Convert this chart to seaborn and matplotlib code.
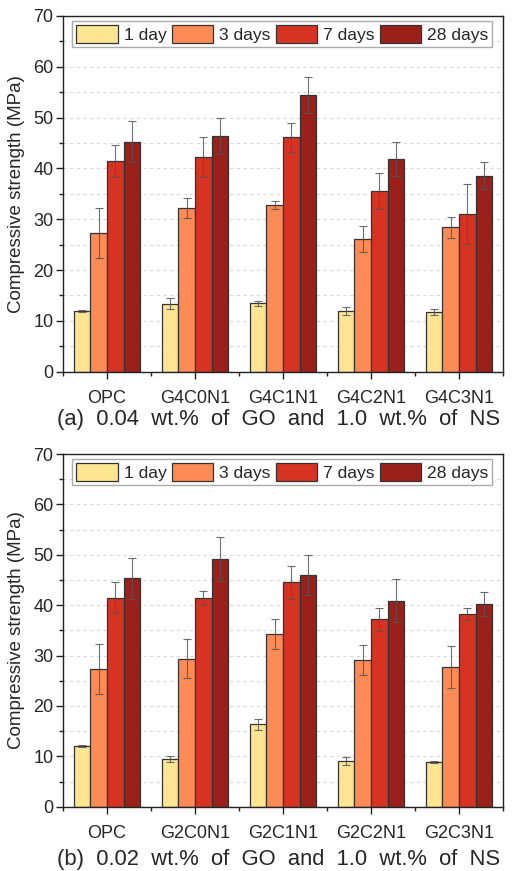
import numpy as np
import pandas as pd
import matplotlib
matplotlib.use("Agg")
import matplotlib.pyplot as plt
import seaborn as sns
from matplotlib.ticker import MultipleLocator, FixedLocator

sns.set_theme(style="white")
plt.rcParams['font.family'] = ['Liberation Sans', 'DejaVu Sans']

ages = ["1 day", "3 days", "7 days", "28 days"]
colors = ["#FEE591", "#FC8B55", "#D73322", "#9B1F1A"]

samples_a = ["OPC", "G4C0N1", "G4C1N1", "G4C2N1", "G4C3N1"]
day1_a = [12.0, 13.4, 13.5, 11.9, 11.8]
day3_a = [27.3, 32.2, 32.8, 26.1, 28.4]
day7_a = [41.5, 42.3, 46.1, 35.6, 31.1]
day28_a = [45.3, 46.4, 54.5, 41.9, 38.6]
err1_a = [0.2, 1.1, 0.5, 0.8, 0.6]
err3_a = [5.0, 2.0, 0.8, 2.6, 2.0]
err7_a = [3.1, 3.9, 2.8, 3.6, 5.9]
err28_a = [4.1, 3.5, 3.5, 3.3, 2.7]

samples_b = ["OPC", "G2C0N1", "G2C1N1", "G2C2N1", "G2C3N1"]
day1_b = [12.0, 9.4, 16.4, 9.0, 8.8]
day3_b = [27.3, 29.4, 34.3, 29.1, 27.7]
day7_b = [41.5, 41.4, 44.5, 37.2, 38.3]
day28_b = [45.3, 49.1, 46.0, 40.9, 40.2]
err1_b = [0.2, 0.6, 1.1, 0.8, 0.2]
err3_b = [5.0, 3.9, 3.0, 3.0, 4.2]
err7_b = [3.1, 1.4, 3.2, 2.3, 1.2]
err28_b = [4.1, 4.4, 4.0, 4.2, 2.4]

titles = ["(a)  0.04  wt.%  of  GO  and  1.0  wt.%  of  NS",
          "(b)  0.02  wt.%  of  GO  and  1.0  wt.%  of  NS"]

W, H = 517, 871
fig = plt.figure(figsize=(W / 100, H / 100), dpi=100)

panels = [
    (samples_a, [day1_a, day3_a, day7_a, day28_a], [err1_a, err3_a, err7_a, err28_a], 16, 371.7, 420),
    (samples_b, [day1_b, day3_b, day7_b, day28_b], [err1_b, err3_b, err7_b, err28_b], 454, 806.7, 859),
]

for (samples, vals, errs, top_px, bot_px, title_px), title in zip(panels, titles):
    left_px, right_px = 63, 503
    ax = fig.add_axes([left_px / W, 1 - bot_px / H, (right_px - left_px) / W, (bot_px - top_px) / H])
    rows = []
    for age, v in zip(ages, vals):
        for s, val in zip(samples, v):
            rows.append({"sample": s, "age": age, "value": val})
    df = pd.DataFrame(rows)
    sns.barplot(data=df, x="sample", y="value", hue="age", hue_order=ages, order=samples,
                palette=colors, width=0.76, errorbar=None, edgecolor="#333333",
                linewidth=0.9, saturation=1, ax=ax, zorder=2)
    for cont, e in zip(ax.containers, errs):
        xs = [p.get_x() + p.get_width() / 2 for p in cont.patches]
        ys = [p.get_height() for p in cont.patches]
        ax.errorbar(xs, ys, yerr=e, fmt="none", ecolor="#555555", elinewidth=0.8,
                    capsize=3, capthick=0.8, alpha=0.85, zorder=3)
    ax.set_xlim(-0.5, 4.5)
    ax.set_ylim(0, 70)
    ax.yaxis.set_major_locator(MultipleLocator(10))
    ax.yaxis.set_minor_locator(MultipleLocator(5))
    ax.xaxis.set_minor_locator(FixedLocator(np.arange(-0.5, 5.0, 1.0)))
    ax.grid(True, which="both", axis="y", linestyle=(0, (3, 3)), color="#d9d9d9", linewidth=0.8, zorder=0)
    ax.set_axisbelow(True)
    ax.tick_params(axis="both", which="major", direction="out", length=5, width=1, color="#222222",
                   labelsize=13, pad=2, bottom=True, left=True)
    ax.tick_params(axis="both", which="minor", direction="out", length=3, width=1, color="#222222",
                   bottom=True, left=True)
    ax.tick_params(axis="x", which="major", pad=8)
    for sp in ax.spines.values():
        sp.set_visible(True)
        sp.set_color("#222222")
        sp.set_linewidth(1.0)
    ax.set_xlabel("")
    ax.set_ylabel("Compressive strength (MPa)", fontsize=13.5, labelpad=6)
    leg = ax.legend(ncol=4, loc="upper left", bbox_to_anchor=(9 / 440, 1 - 5 / (bot_px - top_px)),
                    borderaxespad=0, fontsize=12.6, handlelength=2.35, handleheight=1.15,
                    handletextpad=0.35, columnspacing=0.3, borderpad=0.25,
                    frameon=True, fancybox=False, edgecolor="#aaaaaa", framealpha=1)
    leg.get_frame().set_linewidth(1.0)
    fig.text(279 / W, 1 - title_px / H, title, ha="center", va="center", fontsize=15.8)

fig.savefig("out.png", dpi=100)
